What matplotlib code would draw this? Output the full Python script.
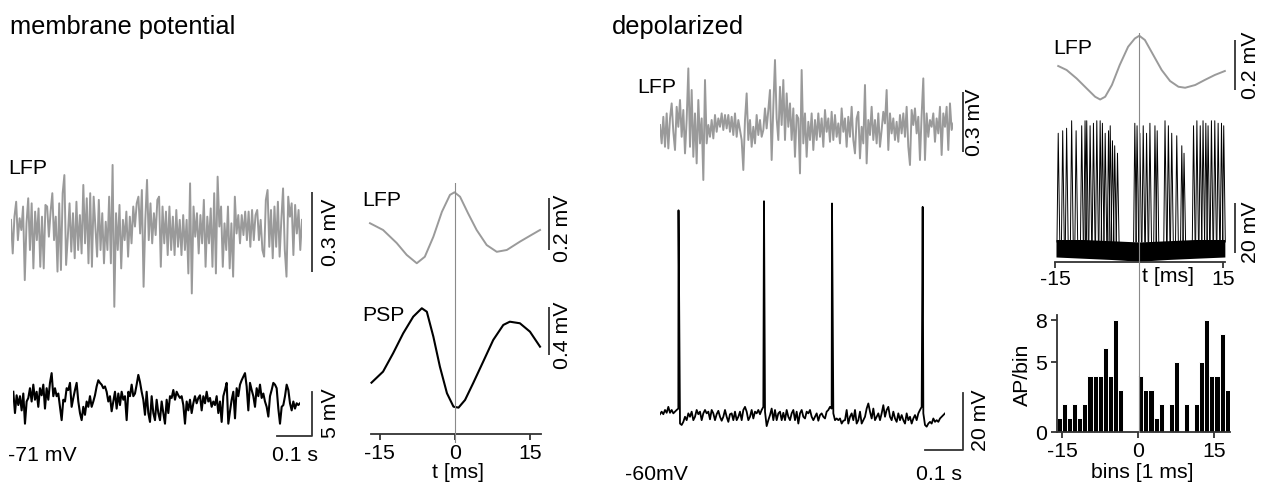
import numpy as np
import matplotlib
matplotlib.use('Agg')
import matplotlib.pyplot as plt
from matplotlib.transforms import blended_transform_factory as btf

# ---------------- data ----------------
# left: "membrane potential" example, LFP (uV) sampled uniformly over ~830 ms
lfp_left_uV = [38, -88, 50, 106, -38, 44, 0, 88, -188, 25, 119, -75, 100, -144, 69, -38, 81, -138, 50, -144,
               94, 88, -25, 69, 138, -38, 50, -156, 100, -150, 138, 206, -131, -25, 100, -81, 63, -106, 106, -75,
               56, -88, 169, -50, 119, -125, 138, -138, 125, 13, -100, 113, -75, 63, -125, 31, -75, 125, -125, 244,
               -288, 63, -75, 94, -144, 38, -38, 69, -100, 50, -50, 88, 13, 100, 125, -13, 150, -213, 38, 188,
               -38, 100, -50, 63, -19, 113, 125, -138, 88, -50, 69, -94, 88, -75, 50, -94, 75, -63, 38, -94,
               56, -75, 38, -163, 175, -238, 88, -25, 63, -88, 56, -50, 113, -138, 50, -50, 81, -138, 138, -163,
               200, 13, 88, -138, 25, -75, 88, -144, 25, -175, 125, -13, 56, -50, 56, -19, 69, -38, 69, -63,
               75, -38, 56, 75, -38, 38, -75, -100, 113, 150, -63, 75, -106, 88, -63, 106, -100, 38, 156, -75,
               -175, 125, 50, 100, -94, 94, -13, 75, -75, 38]
lfp_left_dur_ms = 830

# left membrane potential (mV deviation from -71 mV), uniform over ~819 ms
vm_left_base = -71
vm_left_dv = [1.3, -1.1, 0.9, -0.2, 0.8, -0.8, 1.1, -2.3, 0.2, 0.6, 1.7, 0.2, 2.1, 0.4, 1.3, -0.4, 1.7, 0.9, 2.1, -0.6,
              1.7, 0.4, 2.3, 3.4, 0.8, 1.7, 0.8, 1.1, -0.4, -1.9, 0.4, 0.2, 1.7, 1.5, 2.3, -0.4, 0.6, 1.5, 2.3, 0.2,
              -1.1, -1.9, -0.4, -1.3, 0.2, -0.4, 0.8, -0.4, 0.2, 0.9, 1.9, 2.6, 2.3, 2.1, 1.7, 1.9, 1.3, 0.2, 0.8, -0.9,
              0.2, 1.3, -0.6, 1.1, -0.2, 1.3, 0.4, 0.8, -1.9, 1.3, 0.8, 2.1, 0.8, 1.1, 2.1, 3.2, 2.4, 1.3, 0.4, -1.3,
              1.3, -1.1, -2.1, 0.8, -1.1, -1.9, 0.4, -1.1, -1.9, 0.2, -1.1, -2.3, 0.4, -1.1, 0.8, 0.6, 1.5, 0.4, 1.3, 0.9,
              0.6, 0.8, -0.2, -2.3, 0.2, -0.8, 0.4, -1.1, 0.0, 0.8, 0.0, 0.6, 0.9, -0.8, 0.8, 0.0, 1.3, 0.2, 0.6, -0.4,
              0.2, -0.2, 0.8, -1.1, 0.2, -2.1, 0.8, 1.5, 2.3, -2.3, -0.9, 0.4, 1.3, -1.7, 1.7, 0.8, 2.1, 2.6, 3.0, 3.4,
              1.9, -0.8, 2.3, 1.5, 0.8, -0.4, 1.7, 0.8, 2.1, 0.6, 1.1, 0.2, -0.4, -1.5, 0.8, 1.5, 2.3, 2.1, 1.7, -0.6,
              -2.3, -0.4, -0.2, 0.8, 2.1, 1.5, 0.0, -0.8, 0.2, -0.6, 0.0, -0.2, 0.0]
vm_left_dur_ms = 819

# spike-triggered averages (membrane potential condition)
lfp_avg_t = [-16.9, -14.3, -11.6, -9.6, -7.6, -6.0, -4.3, -2.6, -1.0, -0.1, 1.0, 2.6, 4.3, 6.3, 8.3, 10.3, 12.9, 15.2, 16.9]
lfp_avg_uV = [26, 0, -50, -96, -128, -103, -26, 70, 135, 145, 128, 64, 0, -58, -84, -77, -45, -19, 0]
psp_t = [-16.6, -14.3, -12.3, -10.3, -8.3, -6.6, -5.6, -4.3, -3.0, -1.6, -0.3, 0.7, 2.0, 3.6, 5.6, 7.6, 9.6, 10.9, 12.9, 14.9, 16.9]
psp_uV = [-189, -97, 56, 222, 361, 431, 402, 194, -56, -277, -389, -397, -333, -194, -14, 167, 292, 319, 306, 236, 111]

# right: "depolarized" example LFP (uV), uniform over ~786 ms
lfp_right_uV = [17, -75, 58, -92, 75, -100, 50, 125, -17, -108, 108, 8, 142, -42, 92, -125, 42, 300, -92, 192,
                -142, 75, -175, 142, -75, 50, -258, 242, -75, 17, -42, 42, -50, 67, -17, 50, 8, 75, -8, 67,
                0, 67, -17, 58, -33, 75, -42, 42, -8, -58, -208, 42, 175, -58, 42, -92, 8, -75, 67, -33,
                42, -42, -8, 100, 0, 92, 192, -158, 108, 342, 50, -58, 208, 17, 242, -58, 175, 8, 125, -58,
                100, -142, 67, 50, -225, 292, -75, 75, -142, 33, -58, 75, -108, 42, -58, 75, -42, 50, -92, 92,
                -17, 50, -67, 83, -58, 67, -42, 25, -75, 100, -17, 50, -92, 58, -42, 108, -58, -125, 50, 83,
                -150, 8, -75, 217, -175, 42, -33, 108, -58, 42, -75, 75, -92, -8, 83, 25, 192, -108, 75, -25,
                50, -58, 33, -67, 67, -25, 75, -42, 108, -92, -183, 92, 17, 100, -25, 58, -158, 67, 250, -158,
                75, -42, 42, 8, 75, -67, 50, -25, 108, -133, 75, 8, 108, -108, 125, -8, 25]
lfp_right_dur_ms = 786

# depolarized membrane potential: subthreshold samples (mV from -60 mV, 4.465 ms apart) and action potentials
vm_right_base = -60
vm_right_step_ms = 4.465
vm_right_dv = [0.9, 1.8, 0.9, 2.4, 1.4, 3.5, 1.4, 2.4, 1.2, 1.8, 2.4, 2.9, -2.4, -2.9, -1.8, 0, -1.2, 1.2, 0, 1.8,
               -1.2, 0, 2.4, 0.9, 1.8, -1.2, 1.2, 2.4, 1.2, 1.8, -0.9, 2.4, 1.2, -1.2, 0.9, 2.1, 0, -1.4, 0, 2.4,
               0, -1.8, 0.9, 1.2, -1.2, 1.8, -1.2, 0, 1.8, -1.2, 2.4, 3.5, 1.8, -1.2, 0, 2.4, -0.6, 1.8, 1.2, 2.4,
               0.9, 2.4, 3.5, 1.8, -3.3, -1.2, 0.6, 2.9, -1.2, 2.4, -1.2, 1.2, 1.8, -1.2, 1.4, -1.2, 2.4, 0, -1.2, 1.2,
               2.4, -1.2, 1.8, -2.4, 1.2, 2.4, 0, -0.6, 1.8, 1.2, 2.4, 0, -1.2, 0, 1.2, -1.4, 0.6, 1.2, 0, -0.6,
               1.8, 2.4, 3.5, 2.9, 1.2, -1.2, -0.6, -1.2, -0.6, -2.4, -1.4, -1.2, 2.4, -2.4, 0, 1.2, -1.2, 2.4, -2.4, -1.2,
               1.8, -2.4, -1.2, 0, 2.9, 4.7, 1.8, -0.6, 2.9, -1.2, 0, 1.2, -1.2, 1.2, 4.1, 0, 2.4, 3.5, 0, -1.2,
               1.8, -0.6, -1.8, 1.2, -1.2, 0.6, -1.2, -2.4, 1.2, -1.2, 0, -2.4, -0.6, 0.6, -1.2, 1.2, 2.4, 3.5, 1.2, -2.9,
               -3.5, -2.4, -1.8, -2.4, -0.6, -1.8, -1.2, -1.8, -0.6, 0, 0.6, 1.2]
ap_t_ms = [49.6, 278.6, 460.8, 703.7]
ap_peak_dv = [72.9, 76.1, 75.3, 74.1]

# depolarized: spike-triggered LFP average
lfp_avg2_t = [-14.5, -13.0, -11.2, -9.4, -7.9, -7.0, -6.1, -4.9, -3.5, -2.0, -0.8, 0, 1.0, 2.5, 4.0, 5.5, 7.0, 8.2, 10.0, 11.7, 13.5, 15.3]
lfp_avg2_uV = [3, -13, -47, -87, -120, -131, -120, -73, 7, 80, 113, 124, 107, 47, -13, -57, -80, -84, -73, -53, -33, -17]

# superimposed sweeps: AP times (ms) and peak heights (mV above baseline band centre)
sweep_ap_t = [-14.5, -13.7, -13.0, -12.1, -11.3, -10.3, -9.7, -9.4, -8.8, -8.2, -7.6, -7.0, -6.6, -6.1, -5.5,
              -5.2, -4.8, -4.4, -3.9, -0.8, -0.4, 0.1, 0.7, 1.3, 1.9, 2.8, 3.2, 4.6, 5.2, 5.8, 6.7, 7.6, 8.0,
              9.7, 10.3, 10.9, 11.4, 11.9, 12.3, 12.9, 13.5, 14.1, 14.7, 15.1]
sweep_ap_peak = [46, 47, 48, 51, 47, 49, 51, 51, 49, 50, 51, 51, 50, 46, 47, 49, 43, 41, 38, 50, 49, 46, 49, 46,
                 50, 49, 47, 51, 49, 46, 45, 41, 38, 49, 51, 49, 51, 50, 49, 51, 51, 50, 50, 49]
band_t = [-14.9, -10, -5, 0, 5, 10, 15.3]
band_hi = [3.5, 3.5, 3.0, 2.5, 3.0, 3.5, 3.5]
band_lo = [-3.5, -4.0, -4.5, -5.2, -4.5, -4.0, -3.5]

# AP histogram, 1 ms bins (left edges) and counts
hist_left_ms = list(range(-16, 18))
hist_counts = [1, 2, 1, 2, 1, 2, 4, 4, 4, 6, 4, 8, 3, 0, 0, 0,
               4, 3, 3, 1, 2, 0, 2, 5, 0, 2, 0, 2, 5, 8, 4, 4, 7, 3]

# scale-bar sizes
sb_lfp_left_uV = 300
sb_vm_left_mV = 5
sb_time_ms = 100
sb_lfp_avg_uV = 200
sb_psp_uV = 400
sb_lfp_right_uV = 300
sb_vm_right_mV = 20
sb_lfp_avg2_uV = 200
sb_sweep_mV = 20

# ---------------- figure ----------------
plt.rcParams['font.family'] = ['Liberation Sans', 'DejaVu Sans']
plt.rcParams['axes.unicode_minus'] = False

W, H = 1261, 484
fig = plt.figure(figsize=(W / 100, H / 100), dpi=100)
GRAY = '#9a9a9a'
SB = '#333333'
FS = 15.3


def add_ax(l, t, r, b):
    ax = fig.add_axes([l / W, 1 - b / H, (r - l) / W, (b - t) / H])
    ax.patch.set_alpha(0)
    return ax


def txt(x, y, s, **kw):
    kw.setdefault('fontsize', FS)
    fig.text(x / W, 1 - y / H, s, **kw)


def vbar(ax, xa, y0, length):
    ax.plot([xa, xa], [y0, y0 + length], transform=btf(ax.transAxes, ax.transData),
            color=SB, lw=1.3, clip_on=False, solid_capstyle='butt')


txt(10, 34, 'membrane potential', fontsize=18.3, va='baseline')
txt(612, 34, 'depolarized', fontsize=18.3, va='baseline')

# left LFP
ax = add_ax(11, 150, 302, 320)
ax.plot(np.linspace(0, lfp_left_dur_ms, len(lfp_left_uV)), lfp_left_uV, color=GRAY, lw=1.4)
ax.set_xlim(0, lfp_left_dur_ms)
ax.set_ylim(-337.5, 300)
ax.axis('off')
vbar(ax, 1.034, -157.5, sb_lfp_left_uV)
txt(8, 174, 'LFP', va='baseline')
txt(331, 232, '0.3 mV', rotation=90, ha='center', va='center')

# left Vm
ax = add_ax(13.3, 360, 300, 440)
ax.plot(np.linspace(0, vm_left_dur_ms, len(vm_left_dv)), vm_left_base + np.array(vm_left_dv), color='black', lw=1.5)
ax.set_xlim(0, vm_left_dur_ms)
ax.set_ylim(-75.14, -66.12)
ax.axis('off')
ax.plot([853 - sb_time_ms, 853, 853], [-74.73, -74.73, -74.73 + sb_vm_left_mV], color=SB, lw=1.3, clip_on=False)
txt(8, 461, '-71 mV', va='baseline')
txt(272, 461, '0.1 s', va='baseline')
txt(331, 413, '5 mV', rotation=90, ha='center', va='center')

# middle: averages
XL = (-17.89, 17.89)
ax = add_ax(365, 185, 545, 270)
ax.plot(lfp_avg_t, lfp_avg_uV, color=GRAY, lw=1.4)
ax.set_xlim(*XL)
ax.set_ylim(-154, 173)
ax.axis('off')
vbar(ax, 1.022, -77, sb_lfp_avg_uV)
txt(362, 206, 'LFP', va='baseline')
txt(563, 228, '0.2 mV', rotation=90, ha='center', va='center')

ax = add_ax(365, 295, 545, 434)
ax.plot(psp_t, psp_uV, color='black', lw=1.5)
ax.set_xlim(*XL)
ax.set_ylim(-616.7, 541.5)
for s in ['top', 'right', 'left']:
    ax.spines[s].set_visible(False)
ax.spines['bottom'].set_bounds(-16.7, 17.1)
ax.spines['bottom'].set_color(SB)
ax.spines['bottom'].set_linewidth(1.3)
ax.set_yticks([])
ax.set_xticks([-15, 0, 15])
ax.set_xticklabels(['-15', '0', '15'])
ax.tick_params(axis='x', length=4, width=1.3, color=SB, pad=3, labelsize=FS)
vbar(ax, 1.022, 41, sb_psp_uV)
txt(362, 321, 'PSP', va='baseline')
txt(563, 335, '0.4 mV', rotation=90, ha='center', va='center')
txt(458, 472, 't [ms]', ha='center', va='center')

axv = add_ax(365, 183, 545, 443)
axv.set_xlim(*XL)
axv.axvline(0, color='#8a8a8a', lw=0.8)
axv.axis('off')

# right LFP
ax = add_ax(660, 55, 953.3, 190)
ax.plot(np.linspace(0, lfp_right_dur_ms, len(lfp_right_uV)), lfp_right_uV, color=GRAY, lw=1.4)
ax.set_xlim(0, lfp_right_dur_ms)
ax.set_ylim(-308, 367)
ax.axis('off')
vbar(ax, 1.033, -118, sb_lfp_right_uV)
txt(637, 93, 'LFP', va='baseline')
txt(975, 122, '0.3 mV', rotation=90, ha='center', va='center')

# right Vm with APs
t_sub = np.arange(len(vm_right_dv)) * vm_right_step_ms
t_all = np.concatenate([t_sub, ap_t_ms])
v_all = np.concatenate([vm_right_dv, ap_peak_dv])
order = np.argsort(t_all, kind='stable')
ax = add_ax(660, 195, 945, 455)
ax.plot(t_all[order], vm_right_base + v_all[order], color='black', lw=1.3)
ax.set_xlim(0, t_sub[-1])
ax.set_ylim(-73.5, 18.3)
ax.axis('off')
ax.plot([811 - sb_time_ms, 811, 811], [-71.6, -71.6, -71.6 + sb_vm_right_mV], color=SB, lw=1.3, clip_on=False)
txt(625, 480, '-60mV', va='baseline')
txt(916, 480, '0.1 s', va='baseline')
txt(980, 420, '20 mV', rotation=90, ha='center', va='center')

# far right: LFP average
XR = (-15.97, 16.58)
ax = add_ax(1050, 28, 1232, 105)
ax.plot(lfp_avg2_t, lfp_avg2_uV, color=GRAY, lw=1.4)
ax.set_xlim(*XR)
ax.set_ylim(-153, 155)
ax.axis('off')
vbar(ax, 1.016, -93, sb_lfp_avg2_uV)
txt(1053, 54, 'LFP', va='baseline')
txt(1251, 65, '0.2 mV', rotation=90, ha='center', va='center')

# superimposed sweeps
ax = add_ax(1050, 110, 1232, 262)
ax.fill_between(band_t, band_lo, band_hi, color='black', lw=0)
for tt, pk in zip(sweep_ap_t, sweep_ap_peak):
    ax.plot([tt - 0.22, tt, tt + 0.28], [band_hi[0] - 1, pk, band_hi[0] - 1], color='black', lw=0.7)
ax.set_xlim(*XR)
ax.set_ylim(-5.5, 55.3)
for s in ['top', 'right', 'left']:
    ax.spines[s].set_visible(False)
ax.spines['bottom'].set_bounds(-15, 15.3)
ax.spines['bottom'].set_color(SB)
ax.spines['bottom'].set_linewidth(1.3)
ax.set_yticks([])
ax.set_xticks([-15, 15])
ax.set_xticklabels(['-15', '15'])
ax.tick_params(axis='x', length=4, width=1.3, color=SB, pad=2, labelsize=FS)
vbar(ax, 1.016, -1.9, sb_sweep_mV)
txt(1168, 277, 't [ms]', ha='center', va='center')
txt(1251, 232, '20 mV', rotation=90, ha='center', va='center')

# histogram
ax = add_ax(1057, 310, 1229.7, 432)
ax.bar(hist_left_ms, hist_counts, width=1, align='edge', color='black', edgecolor='white', linewidth=0.7)
ax.set_xlim(-16, 18)
ax.set_ylim(0, 8.74)
for s in ['top', 'right']:
    ax.spines[s].set_visible(False)
for s in ['left', 'bottom']:
    ax.spines[s].set_color(SB)
    ax.spines[s].set_linewidth(1.3)
ax.spines['left'].set_bounds(0, 8.4)
ax.spines['bottom'].set_bounds(-16, 18)
ax.set_yticks([0, 5, 8])
ax.set_yticklabels(['0', '5', '8'])
ax.set_xticks([-15, 0, 15])
ax.set_xticklabels(['-15', '0', '15'])
ax.tick_params(length=4, width=1.3, color=SB, pad=3, labelsize=FS)
txt(1022, 375, 'AP/bin', rotation=90, ha='center', va='center')
txt(1142, 473, 'bins [1 ms]', ha='center', va='center')

axv = add_ax(1050, 33, 1232, 433)
axv.set_xlim(*XR)
axv.axvline(0, color='#8a8a8a', lw=0.8)
axv.axis('off')

fig.savefig('out.png', dpi=100)
